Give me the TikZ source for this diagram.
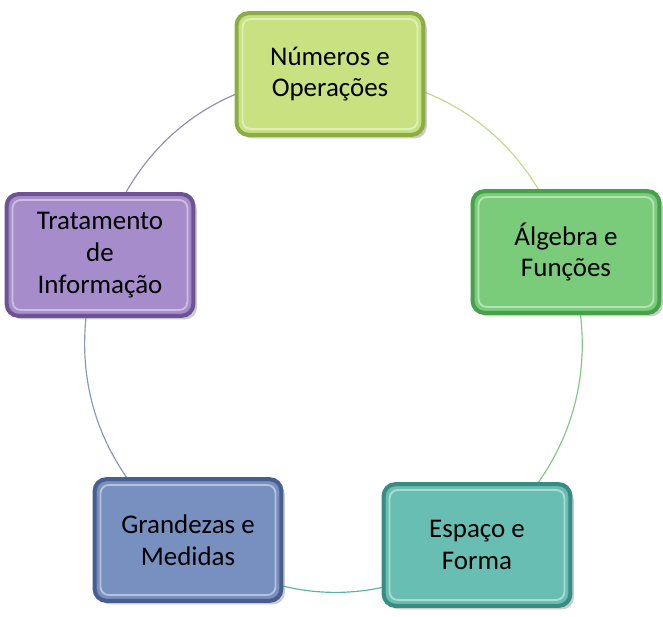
\documentclass[tikz,border=0pt]{standalone}
\usepackage{fontspec}
\setmainfont{Carlito}
\usetikzlibrary{shadows,backgrounds}
\definecolor{numfill}{RGB}{200,226,130}
\definecolor{numdraw}{RGB}{140,172,70}
\definecolor{algfill}{RGB}{122,204,122}
\definecolor{algdraw}{RGB}{70,160,76}
\definecolor{espfill}{RGB}{104,190,178}
\definecolor{espdraw}{RGB}{56,140,130}
\definecolor{grafill}{RGB}{120,144,192}
\definecolor{gradraw}{RGB}{72,94,142}
\definecolor{trafill}{RGB}{166,140,202}
\definecolor{tradraw}{RGB}{108,84,148}
\definecolor{arcnum}{RGB}{196,218,140}
\definecolor{arcalg}{RGB}{130,200,130}
\definecolor{arcesp}{RGB}{90,180,165}
\definecolor{arcgra}{RGB}{136,152,186}
\definecolor{arctra}{RGB}{150,140,180}

\begin{document}
\begin{tikzpicture}[x=0.03cm,y=-0.03cm,
    every node/.style={rounded corners=10pt,line width=3.5pt,minimum width=5.6cm,minimum height=3.65cm,
      align=center,font=\fontsize{23}{27}\selectfont,
      drop shadow={opacity=0.4,shadow xshift=3pt,shadow yshift=-3pt},
      path picture={\draw[white,opacity=0.45,line width=1.6pt,rounded corners=7pt]
        ([shift={(5pt,-5pt)}]path picture bounding box.north west) rectangle
        ([shift={(-5pt,5pt)}]path picture bounding box.south east);}},
    numnode/.style={fill=numfill,draw=numdraw},
    algnode/.style={fill=algfill,draw=algdraw},
    espnode/.style={fill=espfill,draw=espdraw},
    granode/.style={fill=grafill,draw=gradraw},
    tranode/.style={fill=trafill,draw=tradraw},
    ring/.style={line width=1pt,bend left=36}
    ]
    \useasboundingbox (0,0) rectangle (663,617);

    % the boxes
    \node (num) [numnode] at (330,74) {Números e\\Operações};
    \node (alg) [algnode] at (566,252) {Álgebra e\\Funções};
    \node (esp) [espnode] at (477,545) {Espaço e\\Forma};
    \node (gra) [granode] at (188,540) {Grandezas e\\Medidas};
    \node (tra) [tranode] at (100,255) {Tratamento\\de\\Informação};

    % the arcs of the circle
    \begin{scope}[on background layer]
    \draw[ring,arcnum] (num.center) to (alg.center);
    \draw[ring,arcalg] (alg.center) to (esp.center);
    \draw[ring,arcesp] (esp.center) to (gra.center);
    \draw[ring,arcgra] (gra.center) to (tra.center);
    \draw[ring,arctra] (tra.center) to (num.center);
    \end{scope}
\end{tikzpicture}
\end{document}
